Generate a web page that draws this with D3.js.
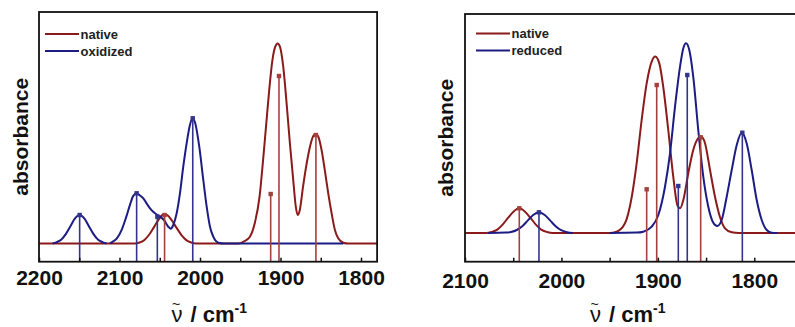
<!DOCTYPE html>
<html>
<head>
<meta charset="utf-8">
<script src="https://cdn.jsdelivr.net/npm/d3@7"></script>
<style>
  body { margin: 0; background: #fff; }
  svg { display: block; }
</style>
</head>
<body>
<div id="chart"></div>
<script>
// tick values (cm-1), labels only on the hundreds
const leftTicks = [2200, 2150, 2100, 2050, 2000, 1950, 1900, 1850, 1800];
const rightTicks = [2100, 2050, 2000, 1950, 1900, 1850, 1800, 1750];

// left panel: native vs oxidized
const leftNativeCurve = [
  [2200, 0], [2081, 0], [2075, 0.005], [2069, 0.018], [2063, 0.045], [2057, 0.083],
  [2051, 0.122], [2047, 0.142], [2044, 0.1475], [2040, 0.14], [2035, 0.115], [2029, 0.078],
  [2023, 0.042], [2017, 0.017], [2011, 0.005], [2005, 0],
  [1952, 0], [1946, 0.009], [1938, 0.034], [1932, 0.101], [1926, 0.234], [1922, 0.401],
  [1918, 0.584], [1914, 0.768], [1910, 0.918], [1906.5, 0.984], [1903.5, 1.0], [1900.7, 0.984],
  [1896.6, 0.884], [1892.4, 0.70], [1888.3, 0.50], [1884.2, 0.318], [1881, 0.184],
  [1878.7, 0.143], [1876, 0.168], [1872, 0.284], [1867.5, 0.40], [1863.4, 0.484],
  [1859.3, 0.538], [1856.3, 0.548], [1853, 0.534], [1849, 0.468], [1845, 0.368],
  [1840.7, 0.251], [1836.5, 0.151], [1832.4, 0.068], [1828.3, 0.026], [1822, 0.004],
  [1816, 0], [1780, 0]
];
const leftOxidizedCurve = [
  [2183, 0], [2178.5, 0.006], [2172.5, 0.019], [2166.5, 0.048], [2161, 0.0865], [2155.5, 0.124],
  [2149.5, 0.1425], [2143.5, 0.124], [2138, 0.0865], [2132.5, 0.048], [2126.5, 0.019],
  [2120.5, 0.006], [2116, 0],
  [2114, null],
  [2112, 0], [2109.7, 0.006], [2103.5, 0.024], [2097.3, 0.068], [2092, 0.128], [2087, 0.193],
  [2082.9, 0.238], [2078.7, 0.251], [2074.5, 0.24], [2070.4, 0.226], [2066, 0.198],
  [2062.1, 0.176], [2055.9, 0.151], [2050.6, 0.1375], [2044.8, 0.1175], [2039.4, 0.084],
  [2036.4, 0.074], [2033.2, 0.0925], [2029, 0.151], [2024.9, 0.251], [2020.8, 0.384],
  [2016.6, 0.501], [2012.5, 0.5925], [2009.1, 0.626], [2005.9, 0.601], [2000.9, 0.484],
  [1995.9, 0.3175], [1991.7, 0.184], [1987.6, 0.084], [1983.5, 0.034], [1977.3, 0.004],
  [1970, 0], [1822, 0]
];
const leftNativeSticks = [[2044, 0.1425], [1912.2, 0.2475], [1901.9, 0.8375], [1856, 0.5425]];
const leftOxidizedSticks = [[2149.5, 0.1425], [2078.7, 0.251], [2053, 0.134], [2009, 0.626]];

// right panel: native vs reduced
const rightNativeCurve = [
  [2100, 0], [2078, 0], [2072.5, 0.005], [2066.5, 0.017], [2061, 0.042], [2055, 0.078],
  [2049.5, 0.108], [2043.7, 0.1235], [2038, 0.108], [2032.5, 0.078], [2026.5, 0.042],
  [2021, 0.017], [2015, 0.005], [2009, 0],
  [1950, 0], [1942.7, 0.0065], [1934.1, 0.0485], [1927.1, 0.18], [1922, 0.348],
  [1916.8, 0.565], [1911.6, 0.748], [1906.4, 0.857], [1902.7, 0.882], [1898.5, 0.848],
  [1894.4, 0.73], [1889.2, 0.515], [1884, 0.28], [1879.8, 0.14], [1877, 0.124],
  [1873.6, 0.165], [1868.4, 0.30], [1863.3, 0.415], [1858.1, 0.474], [1855.3, 0.482],
  [1851.1, 0.449], [1845.9, 0.315], [1840.7, 0.18], [1835.6, 0.08], [1830.4, 0.0235],
  [1823.4, 0.0035], [1816, 0], [1750, 0]
];
const rightReducedCurve = [
  [2076, 0], [2058, 0.002], [2052.3, 0.005], [2046.3, 0.015], [2040.3, 0.035], [2034.8, 0.063],
  [2029.3, 0.09], [2023.3, 0.1035], [2017.3, 0.09], [2011.8, 0.063], [2006.3, 0.035],
  [2000.3, 0.014], [1994.3, 0.004], [1988, 0],
  [1985, null],
  [1950, 0], [1922, 0.002], [1915.1, 0.0065], [1906.4, 0.0315], [1899.5, 0.09],
  [1892.6, 0.2315], [1887.4, 0.3985], [1882.2, 0.6315], [1877, 0.8315], [1873.6, 0.9235],
  [1870.8, 0.9485], [1867.4, 0.915], [1863.3, 0.7815], [1858.1, 0.515], [1852.9, 0.2815],
  [1847.7, 0.1315], [1842.5, 0.0515], [1838.4, 0.035], [1833.8, 0.065], [1828.6, 0.1815],
  [1823.4, 0.315], [1818.2, 0.44], [1813.1, 0.5015], [1807.9, 0.4485], [1802.7, 0.315],
  [1797.5, 0.165], [1792.3, 0.065], [1787.1, 0.015], [1781.9, 0.0015], [1776, 0]
];
const rightNativeSticks = [[2043.7, 0.1235], [1911.6, 0.2185], [1901.2, 0.74], [1855.6, 0.4785]];
const rightReducedSticks = [[2023.3, 0.1035], [1878.8, 0.235], [1869.5, 0.79], [1812.4, 0.5015]];

const legendLeft = ["native", "oxidized"];
const legendRight = ["native", "reduced"];

const red = "#8b1a1a", blue = "#1c1c84";
const redStick = "#a3413c", blueStick = "#34348f";
const font = "'Liberation Sans', Arial, sans-serif";

const width = 795, height = 327;

const svg = d3.select("#chart").append("svg")
    .attr("width", width)
    .attr("height", height);

const panels = [
  {
    xDomain: [2200, 1780], xRange: [39, 377.1], yDomain: [-0.091, 1.1575],
    top: 12, bottom: 261.7, ticks: leftTicks, pad: 8.5,
    native: leftNativeCurve, other: leftOxidizedCurve,
    nativeSticks: leftNativeSticks, otherSticks: leftOxidizedSticks,
    legend: legendLeft, legendX: 45, legendY: 34, ylabX: 28, titleX: 171.5
  },
  {
    xDomain: [2100, 1750], xRange: [465, 802.5], yDomain: [-0.1435, 1.095],
    top: 14, bottom: 261.7, ticks: rightTicks, pad: 11,
    native: rightNativeCurve, other: rightReducedCurve,
    nativeSticks: rightNativeSticks, otherSticks: rightReducedSticks,
    legend: legendRight, legendX: 476, legendY: 33.5, ylabX: 453, titleX: 590
  }
];

panels.forEach(p => {
  const x = d3.scaleLinear().domain(p.xDomain).range(p.xRange);
  const y = d3.scaleLinear().domain(p.yDomain).range([p.bottom, p.top]);

  const g = svg.append("g");

  const line = d3.line()
      .defined(d => d[1] != null)
      .x(d => x(d[0]))
      .y(d => y(d[1]))
      .curve(d3.curveMonotoneX);

  g.append("path")
      .datum(p.native)
      .attr("fill", "none")
      .attr("stroke", red)
      .attr("stroke-width", 2)
      .attr("d", line);

  g.append("path")
      .datum(p.other)
      .attr("fill", "none")
      .attr("stroke", blue)
      .attr("stroke-width", 2)
      .attr("d", line);

  const sticks = (data, color) => {
    g.append("g").selectAll("line")
      .data(data)
      .join("line")
        .attr("x1", d => x(d[0]))
        .attr("x2", d => x(d[0]))
        .attr("y1", p.bottom)
        .attr("y2", d => y(d[1]))
        .attr("stroke", color)
        .attr("stroke-width", 1.6);
    g.append("g").selectAll("rect")
      .data(data)
      .join("rect")
        .attr("x", d => x(d[0]) - 2.2)
        .attr("y", d => y(d[1]) - 2.2)
        .attr("width", 4.4)
        .attr("height", 4.4)
        .attr("fill", color);
  };
  sticks(p.nativeSticks, redStick);
  sticks(p.otherSticks, blueStick);

  // frame
  g.append("rect")
      .attr("x", p.xRange[0])
      .attr("y", p.top)
      .attr("width", p.xRange[1] - p.xRange[0])
      .attr("height", p.bottom - p.top)
      .attr("fill", "none")
      .attr("stroke", "#111")
      .attr("stroke-width", 1.8);

  const xAxis = d3.axisBottom(x)
      .tickValues(p.ticks)
      .tickSizeInner(-4)
      .tickSizeOuter(0)
      .tickPadding(p.pad)
      .tickFormat(d => d % 100 === 0 ? d : "");

  g.append("g")
      .attr("transform", `translate(0,${p.bottom})`)
      .call(xAxis)
      .call(a => a.select(".domain").remove())
      .call(a => a.selectAll(".tick line").attr("stroke", "#111").attr("stroke-width", 1.5))
      .call(a => a.selectAll(".tick text")
            .attr("fill", "#111")
            .attr("font-family", font)
            .attr("font-weight", "bold")
            .attr("font-size", 21));

  // y label
  g.append("text")
      .attr("transform", `translate(${p.ylabX},${(p.top + p.bottom) / 2}) rotate(-90)`)
      .attr("text-anchor", "middle")
      .attr("font-family", font)
      .attr("font-weight", "bold")
      .attr("font-size", 21)
      .attr("fill", "#111")
      .text("absorbance");

  // x title: nu-tilde / cm-1
  const tx = p.titleX;
  g.append("text")
      .attr("x", tx)
      .attr("y", 322)
      .attr("font-family", font)
      .attr("font-size", 22)
      .attr("fill", "#111")
      .text("ν");
  g.append("text")
      .attr("x", tx + 4.5)
      .attr("y", 309)
      .attr("text-anchor", "middle")
      .attr("font-family", font)
      .attr("font-size", 14)
      .attr("fill", "#111")
      .text("~");
  const t = g.append("text")
      .attr("x", tx + 19)
      .attr("y", 322)
      .attr("font-family", font)
      .attr("font-weight", "bold")
      .attr("font-size", 22)
      .attr("fill", "#111");
  t.append("tspan").text("/ cm");
  t.append("tspan").attr("dy", -9).attr("font-size", 14).text("-1");

  // legend
  const leg = g.append("g").selectAll("g")
      .data(p.legend)
      .join("g")
        .attr("transform", (d, i) => `translate(${p.legendX},${p.legendY + i * 17})`);
  leg.append("line")
      .attr("x1", 0).attr("x2", 34)
      .attr("stroke", (d, i) => i === 0 ? red : blue)
      .attr("stroke-width", 1.8);
  leg.append("text")
      .attr("x", 35.5)
      .attr("y", 4.6)
      .attr("font-family", font)
      .attr("font-weight", "bold")
      .attr("font-size", 13)
      .attr("fill", "#222")
      .text(d => d);
});
</script>
</body>
</html>
